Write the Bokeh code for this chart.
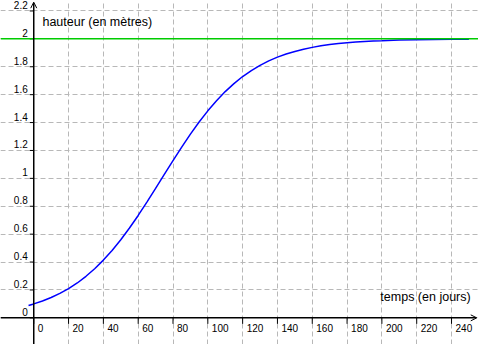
import math
from bokeh.plotting import figure
from bokeh.models import (Range1d, Grid, FixedTicker, Span, Arrow, OpenHead)
from bokeh.core.properties import value
from bokeh.embed import file_html
from bokeh.resources import INLINE

# ---- data ----
days = [-3, 0, 5, 10, 15, 20, 25, 30, 35, 40, 45, 50, 55, 60, 65, 70, 75, 80,
        85, 90, 95, 100, 105, 110, 115, 120, 125, 130, 135, 140, 145, 150,
        155, 160, 165, 170, 175, 180, 185, 190, 195, 200, 210, 220, 230, 240, 250]
height = [0.089, 0.100, 0.121, 0.146, 0.175, 0.210, 0.250, 0.298, 0.352, 0.414,
          0.483, 0.560, 0.644, 0.734, 0.830, 0.928, 1.028, 1.127, 1.224, 1.317,
          1.404, 1.484, 1.556, 1.622, 1.679, 1.730, 1.773, 1.810, 1.842, 1.869,
          1.891, 1.910, 1.926, 1.939, 1.950, 1.959, 1.966, 1.972, 1.977, 1.981,
          1.985, 1.987, 1.992, 1.994, 1.996, 1.997, 1.998]
limit = 2
x_ticks = [0, 20, 40, 60, 80, 100, 120, 140, 160, 180, 200, 220, 240]
x_tick_labels = [str(v) for v in x_ticks]
y_ticks = [0, 0.2, 0.4, 0.6, 0.8, 1.0, 1.2, 1.4, 1.6, 1.8, 2.0, 2.2]
y_tick_labels = ["0", "0.2", "0.4", "0.6", "0.8", "1", "1.2", "1.4", "1.6", "1.8", "2", "2.2"]
x_title = "temps (en jours)"
y_title = "hauteur (en mètres)"

# ---- layout ----
X_MIN, X_MAX = -19.1, 255.5
Y_MIN, Y_MAX = -0.191, 2.275
FONT = "Liberation Sans"

p = figure(width=478, height=344, output_backend="svg", toolbar_location=None,
           x_range=Range1d(X_MIN, X_MAX), y_range=Range1d(Y_MIN, Y_MAX),
           x_axis_location=None, y_axis_location=None, min_border=0,
           outline_line_color=None, background_fill_color="white")
p.grid.visible = False

gx = Grid(dimension=0, ticker=FixedTicker(ticks=x_ticks), grid_line_color="#b8b8b8",
          grid_line_dash="5 3", grid_line_width=1)
gy = Grid(dimension=1, ticker=FixedTicker(ticks=y_ticks), grid_line_color="#b8b8b8",
          grid_line_dash="5 3", grid_line_width=1)
p.add_layout(gx)
p.add_layout(gy)

# limit line
p.add_layout(Span(location=limit, dimension="width", line_color="#00cc00", line_width=1.5))

# curve
p.line(days, height, line_color="#0000ff", line_width=1.5)

# axes
p.add_layout(Arrow(end=OpenHead(size=6, line_width=1, line_color="black"),
                   x_start=X_MIN, y_start=0, x_end=X_MAX - 1, y_end=0,
                   line_color="black", line_width=1.5))
p.add_layout(Arrow(end=OpenHead(size=6, line_width=1, line_color="black"),
                   x_start=0, y_start=Y_MIN, x_end=0, y_end=Y_MAX - 0.012,
                   line_color="black", line_width=1.5))

# tick marks
p.ray(x=x_ticks, y=[0] * len(x_ticks), length=6, length_units="screen",
      angle=-math.pi / 2, line_color="black", line_width=1)
p.ray(x=[0] * len(y_ticks), y=y_ticks, length=4, length_units="screen",
      angle=math.pi, line_color="black", line_width=1)

# tick labels
p.text(x=x_ticks, y=[0] * len(x_ticks), text=x_tick_labels, x_offset=4, y_offset=10,
       text_align="left", text_baseline="middle", text_font=value(FONT),
       text_font_size="10px", text_color="black")
p.text(x=[0] * len(y_ticks), y=y_ticks, text=y_tick_labels, x_offset=-6, y_offset=-6,
       text_align="right", text_baseline="middle", text_font=value(FONT),
       text_font_size="10px", text_color="black")

# axis titles
p.text(x=[5.0], y=[2.12], text=[y_title], text_align="left", text_baseline="middle",
       text_font=value(FONT), text_font_size="12.5px", text_color="black")
p.text(x=[251.0], y=[0.146], text=[x_title], text_align="right", text_baseline="middle",
       text_font=value(FONT), text_font_size="12.5px", text_color="black")

open("out.html", "w").write(file_html(p, INLINE))
